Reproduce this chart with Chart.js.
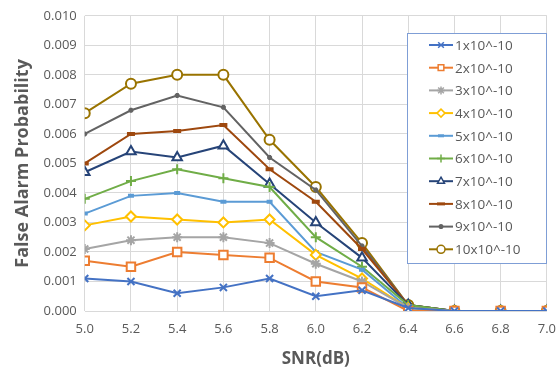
<!DOCTYPE html>
<html>
<head>
<meta charset="utf-8">
<script src="https://cdn.jsdelivr.net/npm/chart.js@4.4.1/dist/chart.umd.min.js"></script>
<style>
  html, body { margin: 0; padding: 0; background: #fff; overflow: hidden; }
  #grafico { display: block; }
</style>
</head>
<body>
<canvas id="grafico" width="566" height="381"></canvas>
<script>
// SNR en dB (eje X)
const snr = [5.0, 5.2, 5.4, 5.6, 5.8, 6.0, 6.2, 6.4, 6.6, 6.8, 7.0];

// probabilidad de falsa alarma para cada umbral
const serie1 = [0.0011, 0.0010, 0.0006, 0.0008, 0.0011, 0.0005, 0.0007, 0.0001, 0, 0, 0];
const serie2 = [0.0017, 0.0015, 0.0020, 0.0019, 0.0018, 0.0010, 0.0008, 0.0000, 0, 0, 0];
const serie3 = [0.0021, 0.0024, 0.0025, 0.0025, 0.0023, 0.0016, 0.0010, 0.0001, 0, 0, 0];
const serie4 = [0.0029, 0.0032, 0.0031, 0.0030, 0.0031, 0.0019, 0.0011, 0.0001, 0, 0, 0];
const serie5 = [0.0033, 0.0039, 0.0040, 0.0037, 0.0037, 0.0020, 0.0014, 0.0001, 0, 0, 0];
const serie6 = [0.0038, 0.0044, 0.0048, 0.0045, 0.0042, 0.0025, 0.0015, 0.0002, 0, 0, 0];
const serie7 = [0.0047, 0.0054, 0.0052, 0.0056, 0.0043, 0.0030, 0.0018, 0.0002, 0, 0, 0];
const serie8 = [0.0050, 0.0060, 0.0061, 0.0063, 0.0048, 0.0037, 0.0021, 0.0002, 0, 0, 0];
const serie9 = [0.0060, 0.0068, 0.0073, 0.0069, 0.0052, 0.0041, 0.0022, 0.0002, 0, 0, 0];
const serie10 = [0.0067, 0.0077, 0.0080, 0.0080, 0.0058, 0.0042, 0.0023, 0.0002, 0, 0, 0];

const etiquetas = ['1x10^-10', '2x10^-10', '3x10^-10', '4x10^-10', '5x10^-10',
  '6x10^-10', '7x10^-10', '8x10^-10', '9x10^-10', '10x10^-10'];

const series = [serie1, serie2, serie3, serie4, serie5, serie6, serie7, serie8, serie9, serie10];

// color, forma del marcador, radio, relleno
const estilos = [
  ['#4472C4', 'crossRot', 5, '#4472C4'],
  ['#ED7D31', 'rect', 6, '#ffffff'],
  ['#A5A5A5', 'star', 5, '#A5A5A5'],
  ['#FFC000', 'rectRot', 5, '#ffffff'],
  ['#5B9BD5', 'line', 3, '#5B9BD5'],
  ['#70AD47', 'cross', 5, '#70AD47'],
  ['#264478', 'triangle', 5.5, '#ffffff'],
  ['#9E480E', 'line', 4, '#9E480E'],
  ['#636363', 'star', 2.5, '#636363'],
  ['#997300', 'circle', 5, '#ffffff']
];

const datasets = series.map((valores, i) => {
  const [color, forma, radio, relleno] = estilos[i];
  return {
    label: etiquetas[i],
    data: snr.map((x, j) => ({ x, y: valores[j] })),
    borderColor: color,
    backgroundColor: relleno,
    borderWidth: 2,
    pointStyle: forma,
    pointRadius: radio,
    pointBorderWidth: (forma === 'line') ? 4 : 2,
    pointBorderColor: color,
    pointBackgroundColor: relleno,
    tension: 0
  };
});

// leyenda dibujada dentro del área del gráfico
const leyendaInterna = {
  id: 'leyendaInterna',
  afterDraw(chart) {
    const ctx = chart.ctx;
    const x0 = 407, y0 = 33, w = 139, h = 230;
    ctx.save();
    ctx.fillStyle = '#ffffff';
    ctx.fillRect(x0, y0, w, h);
    ctx.strokeStyle = '#7F9ED6';
    ctx.lineWidth = 1;
    ctx.strokeRect(x0 + 0.5, y0 + 0.5, w, h);
    ctx.font = '13.5px "Open Sans", "Liberation Sans", sans-serif';
    ctx.textBaseline = 'middle';
    chart.data.datasets.forEach((ds, i) => {
      const y = y0 + 12 + i * 22.7;
      ctx.strokeStyle = ds.borderColor;
      ctx.lineWidth = 2;
      ctx.beginPath();
      ctx.moveTo(x0 + 22, y);
      ctx.lineTo(x0 + 46, y);
      ctx.stroke();
      ctx.fillStyle = ds.pointBackgroundColor;
      ctx.lineWidth = ds.pointStyle === 'line' ? 3 : 1.5;
      Chart.helpers.drawPoint(ctx, {
        pointStyle: ds.pointStyle,
        radius: Math.min(ds.pointRadius, 4),
        borderWidth: ds.pointStyle === 'line' ? 3 : 1.5,
        rotation: 0
      }, x0 + 34, y);
      ctx.fillStyle = '#595959';
      ctx.fillText(ds.label, x0 + 48, y + 1);
    });
    ctx.restore();
  }
};

const fuente = '"Open Sans", "Liberation Sans", sans-serif';

new Chart(document.getElementById('grafico').getContext('2d'), {
  type: 'line',
  data: { datasets },
  options: {
    responsive: false,
    animation: false,
    layout: { padding: { top: 5, right: 0, left: 8, bottom: 8 } },
    plugins: {
      legend: { display: false },
      tooltip: { enabled: false }
    },
    scales: {
      x: {
        type: 'linear',
        min: 5.0,
        max: 7.0,
        ticks: {
          stepSize: 0.2,
          color: '#595959',
          font: { family: fuente, size: 13 },
          padding: 10,
          callback: v => v.toFixed(1)
        },
        grid: { color: '#D9D9D9', drawTicks: false },
        border: { display: false },
        title: {
          display: true,
          text: 'SNR(dB)',
          color: '#595959',
          font: { family: fuente, size: 17, weight: 'bold' },
          padding: { top: 2 }
        }
      },
      y: {
        min: 0,
        max: 0.01,
        ticks: {
          stepSize: 0.001,
          color: '#595959',
          font: { family: fuente, size: 13 },
          padding: 8,
          callback: v => v.toFixed(3)
        },
        grid: { color: '#D9D9D9', drawTicks: false },
        border: { display: false },
        title: {
          display: true,
          text: 'False Alarm Probability',
          color: '#595959',
          font: { family: fuente, size: 18, weight: 'bold' },
          padding: { bottom: 2 }
        }
      }
    }
  },
  plugins: [leyendaInterna]
});
</script>
</body>
</html>
